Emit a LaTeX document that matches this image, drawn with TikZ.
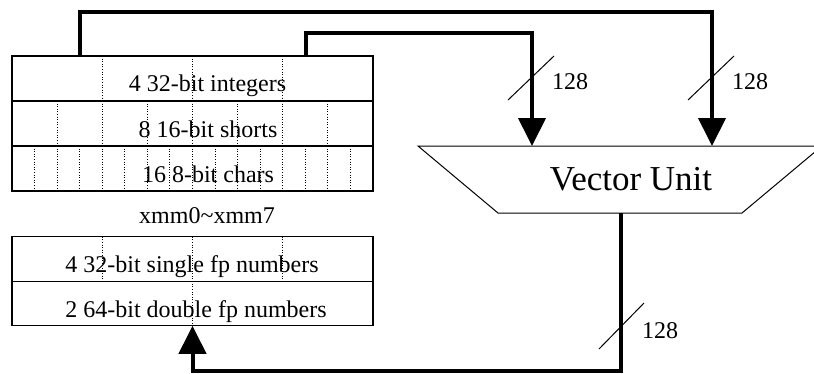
\documentclass[tikz,border=0pt]{standalone}
\usepackage{fontspec}
\setmainfont{Liberation Serif}
\usetikzlibrary{arrows.meta,calc}
\begin{document}
\begin{tikzpicture}[x=1pt,y=-1pt,
  regrow/.style={draw,line width=1.2pt,minimum width=361pt,inner sep=0pt,outer sep=0pt},
  dotln/.style={line width=0.9pt,dash pattern=on 1pt off 1.6pt},
  txt/.style={font=\fontsize{24}{28}\selectfont,inner sep=0pt,anchor=base},
  lbl/.style={font=\fontsize{24}{28}\selectfont,inner sep=0pt,anchor=base west},
  bus/.style={line width=4pt,line join=miter,-{Triangle[width=27pt,length=28pt]}},
  slash/.style={line width=1pt}]
\clip (0,0) rectangle (814,373);
% upper register box
\node[regrow,minimum height=45pt] (r1) at (192.5,78.5) {};
\node[regrow,minimum height=45pt] (r2) at (192.5,123.5) {};
\node[regrow,minimum height=45pt] (r3) at (192.5,168.5) {};
\node[txt] (t1) at (207.5,91) {4 32-bit integers};
\node[txt] (t2) at (208,137) {8 16-bit shorts};
\node[txt] (t3) at (208,182) {16 8-bit chars};
\foreach \k in {1,...,3}
  \draw[dotln] ($(r1.north west)!\k/4!(r1.north east)$) -- ($(r1.south west)!\k/4!(r1.south east)$);
\foreach \k in {1,...,7}
  \draw[dotln] ($(r2.north west)!\k/8!(r2.north east)$) -- ($(r2.south west)!\k/8!(r2.south east)$);
\foreach \k in {1,...,15}
  \draw[dotln] ($(r3.north west)!\k/16!(r3.north east)$) -- ($(r3.south west)!\k/16!(r3.south east)$);
% name
\node[txt] (xmm) at (207,223) {xmm0\textasciitilde xmm7};
% lower register box
\node[regrow,minimum height=44.5pt] (l1) at (192.5,259) {};
\node[regrow,minimum height=44.5pt] (l2) at (192.5,303.5) {};
\node[txt] (t4) at (192,272) {4 32-bit single fp numbers};
\node[txt] (t5) at (196,317) {2 64-bit double fp numbers};
\foreach \k in {1,...,3}
  \draw[dotln] ($(l1.north west)!\k/4!(l1.north east)$) -- ($(l1.south west)!\k/4!(l1.south east)$);
\draw[dotln] (l2.north) -- (l2.south);
% vector unit
\node[minimum width=404pt,minimum height=67pt,inner sep=0pt,outer sep=0pt] (vu) at (620,179.5) {};
\draw[line width=1pt,line join=miter] (vu.north west) -- (vu.north east)
  -- ($(vu.south east)+(-80,0)$) -- ($(vu.south west)+(80,0)$) -- cycle;
\node[font=\fontsize{35}{40}\selectfont,inner sep=0pt,anchor=base] (vut) at (631,190) {Vector Unit};
% connection points
\coordinate (o1) at ($(r1.north west)+(67.5,0)$);
\coordinate (o2) at ($(r1.north west)+(293.5,0)$);
\coordinate (inA) at ($(vu.north)+(-88,0)$);
\coordinate (inB) at ($(vu.north)+(92,0)$);
\coordinate (outV) at ($(vu.south)+(1,0)$);
% buses
\draw[bus] (o1) -- ++(0,-44) -| (inB);
\draw[bus] (o2) -- ++(0,-23) -| (inA);
\draw[bus] (outV) -- ++(0,158) -| (l2.south);
% width marks
\draw[slash] ($(inA)+(-24,-46)$) -- ++(46,-44);
\draw[slash] ($(inB)+(-24,-46)$) -- ++(46,-44);
\draw[slash] ($(outV)+(-22,136)$) -- ++(45,-46);
\node[lbl] (w1) at (552,89) {128};
\node[lbl] (w2) at (732,89) {128};
\node[lbl] (w3) at (642,338) {128};
\end{tikzpicture}
\end{document}
